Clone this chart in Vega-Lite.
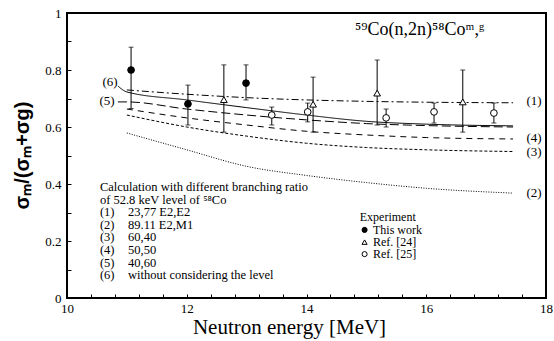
{
  "$schema": "https://vega.github.io/schema/vega-lite/v6.json",
  "width": 479,
  "height": 285,
  "autosize": {"type": "none"},
  "padding": {"left": 67, "top": 13, "right": 8, "bottom": 43},
  "background": "white",
  "config": {
    "view": {"stroke": "black", "strokeWidth": 2},
    "font": "Liberation Serif, Times New Roman, serif",
    "axis": {"labelFont": "Liberation Serif, Times New Roman, serif", "titleFont": "Liberation Serif, Times New Roman, serif"},
    "style": {
      "guide-label": {"font": "Liberation Serif, Times New Roman, serif"},
      "guide-title": {"font": "Liberation Serif, Times New Roman, serif"}
    }
  },
  "datasets": {
    "curves": [
      {"curve": "1", "x": 11, "y": 0.730}, {"curve": "1", "x": 12, "y": 0.715}, {"curve": "1", "x": 13, "y": 0.703}, {"curve": "1", "x": 14, "y": 0.695}, {"curve": "1", "x": 15, "y": 0.690}, {"curve": "1", "x": 16, "y": 0.687}, {"curve": "1", "x": 17.45, "y": 0.685},
      {"curve": "2", "x": 11, "y": 0.579}, {"curve": "2", "x": 12, "y": 0.520}, {"curve": "2", "x": 13, "y": 0.462}, {"curve": "2", "x": 14, "y": 0.430}, {"curve": "2", "x": 15, "y": 0.405}, {"curve": "2", "x": 16, "y": 0.385}, {"curve": "2", "x": 17.45, "y": 0.368},
      {"curve": "3", "x": 11, "y": 0.642}, {"curve": "3", "x": 12, "y": 0.600}, {"curve": "3", "x": 13, "y": 0.568}, {"curve": "3", "x": 14, "y": 0.543}, {"curve": "3", "x": 15, "y": 0.528}, {"curve": "3", "x": 16, "y": 0.520}, {"curve": "3", "x": 17.45, "y": 0.514},
      {"curve": "4", "x": 11, "y": 0.663}, {"curve": "4", "x": 12, "y": 0.632}, {"curve": "4", "x": 13, "y": 0.607}, {"curve": "4", "x": 14, "y": 0.585}, {"curve": "4", "x": 15, "y": 0.572}, {"curve": "4", "x": 16, "y": 0.563}, {"curve": "4", "x": 17.45, "y": 0.558},
      {"curve": "5", "x": 10.85, "y": 0.688}, {"curve": "5", "x": 11, "y": 0.688}, {"curve": "5", "x": 12, "y": 0.663}, {"curve": "5", "x": 13, "y": 0.642}, {"curve": "5", "x": 14, "y": 0.625}, {"curve": "5", "x": 15, "y": 0.612}, {"curve": "5", "x": 16, "y": 0.605}, {"curve": "5", "x": 17.45, "y": 0.600},
      {"curve": "6", "x": 10.85, "y": 0.744}, {"curve": "6", "x": 11, "y": 0.723}, {"curve": "6", "x": 12, "y": 0.695}, {"curve": "6", "x": 13, "y": 0.668}, {"curve": "6", "x": 14, "y": 0.642}, {"curve": "6", "x": 15, "y": 0.620}, {"curve": "6", "x": 16, "y": 0.610}, {"curve": "6", "x": 17.45, "y": 0.604}
    ],
    "points": [
      {"set": "This work", "x": 11.07, "y": 0.800, "lo": 0.665, "hi": 0.880},
      {"set": "This work", "x": 12.02, "y": 0.681, "lo": 0.607, "hi": 0.747},
      {"set": "This work", "x": 12.99, "y": 0.754, "lo": 0.695, "hi": 0.818},
      {"set": "Ref. [24]", "x": 12.62, "y": 0.696, "lo": 0.582, "hi": 0.818},
      {"set": "Ref. [24]", "x": 14.11, "y": 0.680, "lo": 0.582, "hi": 0.775},
      {"set": "Ref. [24]", "x": 15.18, "y": 0.719, "lo": 0.607, "hi": 0.835},
      {"set": "Ref. [24]", "x": 16.61, "y": 0.688, "lo": 0.582, "hi": 0.800},
      {"set": "Ref. [25]", "x": 13.42, "y": 0.642, "lo": 0.607, "hi": 0.670},
      {"set": "Ref. [25]", "x": 14.02, "y": 0.653, "lo": 0.618, "hi": 0.684},
      {"set": "Ref. [25]", "x": 15.33, "y": 0.632, "lo": 0.600, "hi": 0.663},
      {"set": "Ref. [25]", "x": 16.13, "y": 0.653, "lo": 0.614, "hi": 0.684},
      {"set": "Ref. [25]", "x": 17.13, "y": 0.649, "lo": 0.614, "hi": 0.684}
    ],
    "legsym": [
      {"set": "This work", "x": 14.97, "y": 0.239},
      {"set": "Ref. [24]", "x": 14.97, "y": 0.196},
      {"set": "Ref. [25]", "x": 14.97, "y": 0.154}
    ],
    "legtext": [
      {"t": "Experiment", "x": 14.89, "y": 0.284},
      {"t": "This work", "x": 15.11, "y": 0.239},
      {"t": "Ref. [24]", "x": 15.11, "y": 0.196},
      {"t": "Ref. [25]", "x": 15.11, "y": 0.154}
    ],
    "calc": [
      {"t": "Calculation with different branching ratio", "x": 10.55, "y": 0.389},
      {"t": "of 52.8 keV level of ⁵⁸Co", "x": 10.55, "y": 0.345},
      {"t": "(1)", "x": 10.55, "y": 0.301},
      {"t": "(2)", "x": 10.55, "y": 0.257},
      {"t": "(3)", "x": 10.55, "y": 0.213},
      {"t": "(4)", "x": 10.55, "y": 0.168},
      {"t": "(5)", "x": 10.55, "y": 0.124},
      {"t": "(6)", "x": 10.55, "y": 0.080},
      {"t": "23,77 E2,E2", "x": 11.02, "y": 0.301},
      {"t": "89.11 E2,M1", "x": 11.02, "y": 0.257},
      {"t": "60,40", "x": 11.02, "y": 0.213},
      {"t": "50,50", "x": 11.02, "y": 0.168},
      {"t": "40,60", "x": 11.02, "y": 0.124},
      {"t": "without considering the level", "x": 11.02, "y": 0.080}
    ],
    "curvelabels": [
      {"t": "(1)", "x": 17.8, "y": 0.691},
      {"t": "(4)", "x": 17.8, "y": 0.561},
      {"t": "(3)", "x": 17.8, "y": 0.512},
      {"t": "(2)", "x": 17.8, "y": 0.368},
      {"t": "(6)", "x": 10.72, "y": 0.758},
      {"t": "(5)", "x": 10.67, "y": 0.691}
    ],
    "title": [
      {"t": "⁵⁹Co(n,2n)⁵⁸Coᵐ,ᵍ", "x": 14.81, "y": 0.923}
    ]
  },
  "encoding": {
    "x": {
      "field": "x", "type": "quantitative",
      "scale": {"domain": [10, 18], "nice": false, "zero": false},
      "axis": {
        "title": "Neutron energy [MeV]",
        "titleFont": "Liberation Serif, Times New Roman, serif", "titleFontSize": 21, "titleFontWeight": "normal", "titleColor": "black",
        "titleX": 222, "titleY": 35, "titleBaseline": "alphabetic",
        "values": [10, 10.4, 10.8, 11.2, 11.6, 12, 12.4, 12.8, 13.2, 13.6, 14, 14.4, 14.8, 15.2, 15.6, 16, 16.4, 16.8, 17.2, 17.6, 18],
        "labelExpr": "round(datum.value*10) % 20 == 0 ? datum.value : ''",
        "labelFont": "Liberation Serif, Times New Roman, serif", "labelFontSize": 13, "labelColor": "black", "labelPadding": 8,
        "labelOverlap": false, "labelFlush": false,
        "tickSize": -4, "tickColor": "black", "tickWidth": 1, "domain": false, "grid": false
      }
    },
    "y": {
      "field": "y", "type": "quantitative",
      "scale": {"domain": [0, 1], "nice": false},
      "axis": {
        "title": "σₘ/(σₘ+σg)",
        "titleFont": "Liberation Sans, Arial, sans-serif", "titleFontSize": 20, "titleFontWeight": "bold", "titleColor": "black",
        "titleX": -45, "titleY": 142, "titleAngle": -90, "titleAlign": "center", "titleBaseline": "middle",
        "values": [0, 0.1, 0.2, 0.3, 0.4, 0.5, 0.6, 0.7, 0.8, 0.9, 1],
        "labelExpr": "datum.value == 0 ? '0' : datum.value == 1 ? '1' : (round(datum.value*10) % 2 == 0 ? format(datum.value, '.1f') : '')",
        "labelFont": "Liberation Serif, Times New Roman, serif", "labelFontSize": 13, "labelColor": "black", "labelPadding": 10,
        "labelOverlap": false, "labelFlush": false,
        "tickSize": -4, "tickColor": "black", "tickWidth": 1, "domain": false, "grid": false
      }
    }
  },
  "layer": [
    {
      "data": {"name": "curves"},
      "mark": {"type": "line", "color": "black", "strokeWidth": 1, "interpolate": "monotone"},
      "encoding": {
        "detail": {"field": "curve"},
        "strokeDash": {
          "field": "curve", "type": "nominal",
          "scale": {"domain": ["1", "2", "3", "4", "5", "6"], "range": [[7, 3, 2, 3], [1, 1.5], [3, 2], [6, 5], [9, 4], [1, 0]]},
          "legend": null
        }
      }
    },
    {
      "data": {"name": "points"},
      "transform": [{"fold": ["lo", "hi"], "as": ["end", "y"]}],
      "mark": {"type": "line", "color": "black", "strokeWidth": 1},
      "encoding": {
        "detail": {"field": "x", "type": "quantitative"}
      }
    },
    {
      "data": {"name": "points"},
      "transform": [{"fold": ["lo", "hi"], "as": ["end", "y"]}],
      "mark": {"type": "tick", "orient": "horizontal", "color": "black", "size": 5, "thickness": 1},
      "encoding": {}
    },
    {
      "data": {"name": "points"},
      "mark": {"type": "point", "stroke": "black", "strokeWidth": 1, "opacity": 1, "filled": false},
      "encoding": {
        "shape": {"field": "set", "type": "nominal", "scale": {"domain": ["This work", "Ref. [24]", "Ref. [25]"], "range": ["circle", "triangle-up", "circle"]}, "legend": null},
        "fill": {"field": "set", "type": "nominal", "scale": {"domain": ["This work", "Ref. [24]", "Ref. [25]"], "range": ["black", "white", "white"]}, "legend": null},
        "size": {"value": 45}
      }
    },
    {
      "data": {"name": "legsym"},
      "mark": {"type": "point", "stroke": "black", "strokeWidth": 1, "opacity": 1, "filled": false, "size": 26},
      "encoding": {
        "shape": {"field": "set", "type": "nominal", "legend": null},
        "fill": {"field": "set", "type": "nominal", "legend": null}
      }
    },
    {
      "data": {"name": "legtext"},
      "mark": {"type": "text", "align": "left", "baseline": "middle", "font": "Liberation Serif", "fontSize": 12, "color": "black"},
      "encoding": {"text": {"field": "t"}}
    },
    {
      "data": {"name": "calc"},
      "mark": {"type": "text", "align": "left", "baseline": "middle", "font": "Liberation Serif", "fontSize": 12.5, "color": "black"},
      "encoding": {"text": {"field": "t"}}
    },
    {
      "data": {"name": "curvelabels"},
      "mark": {"type": "text", "align": "center", "baseline": "middle", "font": "Liberation Serif", "fontSize": 13, "color": "black"},
      "encoding": {"text": {"field": "t"}}
    },
    {
      "data": {"name": "title"},
      "mark": {"type": "text", "align": "left", "baseline": "alphabetic", "font": "Liberation Serif", "fontSize": 18, "color": "black"},
      "encoding": {"text": {"field": "t"}}
    }
  ]
}
